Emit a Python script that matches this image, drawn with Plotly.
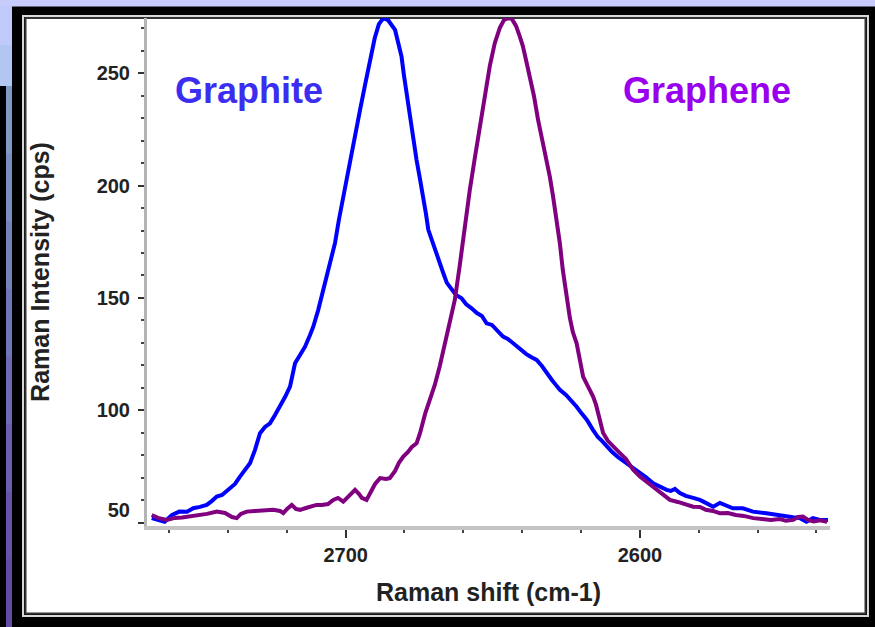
import plotly.graph_objects as go

# ---------------- data ----------------
graphite_shift = [2765.9, 2763.8, 2761.5, 2759.0, 2756.5, 2753.9, 2751.8, 2749.5, 2747.2, 2745.4,
                  2743.8, 2742.0, 2739.3, 2737.6, 2735.9, 2734.2, 2732.5, 2730.8, 2729.1, 2727.4,
                  2725.7, 2724.0, 2722.3, 2720.6, 2718.9, 2717.2, 2715.5, 2713.8, 2712.1, 2711.0,
                  2709.3, 2707.6, 2705.7, 2703.6, 2702.3, 2700.8, 2699.6, 2698.0, 2696.5, 2695.1,
                  2693.4, 2691.7, 2690.1, 2688.7, 2687.2, 2685.6, 2684.3, 2683.2, 2682.2, 2681.0,
                  2680.2, 2679.3, 2678.5, 2677.6, 2676.8, 2675.9, 2674.8, 2673.6, 2672.7, 2671.9,
                  2671.0, 2669.7, 2668.3, 2666.8, 2665.6, 2664.0, 2662.5, 2660.6, 2659.1, 2657.2,
                  2655.4, 2653.7, 2652.1, 2650.3, 2648.6, 2646.5, 2644.9, 2642.8, 2640.8, 2638.7,
                  2637.0, 2635.1, 2633.3, 2631.7, 2629.9, 2628.5, 2627.2, 2625.1, 2623.4, 2621.5,
                  2619.7, 2618.0, 2615.9, 2614.3, 2612.9, 2611.3, 2609.5, 2607.5, 2604.5, 2602.4,
                  2600.0, 2598.0, 2595.5, 2593.2, 2590.9, 2589.5, 2588.1, 2586.4, 2584.4, 2581.9,
                  2579.6, 2577.6, 2575.1, 2572.8, 2570.6, 2568.4, 2565.0, 2561.6, 2557.0, 2553.6,
                  2548.0, 2545.6, 2543.4, 2541.2, 2538.8, 2536.1]
graphite_cps = [52.0, 51.2, 50.4, 53.4, 54.9, 54.8, 56.4, 57.0, 57.9, 59.7,
                61.6, 62.3, 65.3, 67.2, 70.5, 73.5, 76.4, 82.4, 89.8, 92.6,
                94.2, 97.9, 101.6, 105.9, 110.5, 120.9, 124.6, 128.3, 133.5, 137.2,
                144.7, 153.6, 163.4, 174.5, 184.7, 195.1, 204.7, 215.9, 225.7, 233.7,
                244.8, 256.0, 265.7, 271.9, 274.5, 273.7, 271.5, 269.3, 263.9, 257.4,
                249.2, 241.1, 232.8, 224.8, 217.2, 211.4, 203.4, 195.1, 187.4, 180.3,
                176.7, 172.8, 166.9, 161.0, 156.7, 153.6, 151.3, 149.9, 147.3, 145.4,
                143.3, 142.0, 138.7, 138.0, 135.8, 132.8, 131.8, 129.5, 126.9, 125.1,
                123.7, 122.4, 119.7, 116.5, 113.5, 111.2, 109.1, 106.8, 104.6, 101.6,
                98.4, 95.7, 91.2, 88.1, 86.4, 83.8, 81.5, 79.2, 76.4, 74.8,
                72.6, 70.3, 67.5, 65.9, 64.6, 64.1, 65.0, 63.2, 61.9, 61.0,
                60.1, 58.8, 57.1, 58.8, 57.4, 56.4, 56.4, 54.9, 54.2, 53.4,
                52.4, 52.0, 50.4, 52.0, 51.2, 51.2]

graphene_shift = [2765.9, 2763.8, 2760.8, 2758.0, 2755.6, 2752.9, 2750.2, 2747.1, 2743.8, 2741.0,
                  2738.6, 2737.0, 2735.6, 2733.6, 2730.8, 2727.4, 2724.6, 2722.3, 2721.2, 2719.9,
                  2718.3, 2716.9, 2715.5, 2713.5, 2711.8, 2709.9, 2708.1, 2706.0, 2704.2, 2702.6,
                  2700.8, 2699.2, 2697.9, 2696.8, 2695.5, 2694.5, 2692.9, 2691.4, 2690.0, 2688.3,
                  2686.3, 2685.0, 2683.2, 2681.9, 2680.4, 2678.8, 2677.5, 2675.9, 2674.7, 2673.0,
                  2671.4, 2669.7, 2668.0, 2666.3, 2664.6, 2662.9, 2661.2, 2659.5, 2657.8, 2656.1,
                  2654.4, 2652.7, 2651.0, 2649.3, 2647.6, 2646.2, 2644.8, 2643.5, 2642.1, 2640.8,
                  2639.8, 2638.7, 2637.4, 2636.0, 2634.6, 2633.3, 2631.7, 2630.6, 2629.5, 2628.3,
                  2627.2, 2626.2, 2624.9, 2623.8, 2622.8, 2621.5, 2620.4, 2619.3, 2617.7, 2615.9,
                  2614.9, 2613.6, 2612.5, 2610.9, 2609.1, 2606.8, 2604.8, 2602.3, 2600.0, 2597.3,
                  2594.9, 2592.9, 2589.8, 2587.1, 2584.4, 2581.9, 2579.6, 2577.6, 2575.2, 2572.8,
                  2570.1, 2567.4, 2564.7, 2561.5, 2558.5, 2555.5, 2552.4, 2550.4, 2547.9, 2546.3,
                  2544.6, 2542.9, 2540.9, 2538.8, 2536.4]
graphene_cps = [53.4, 52.1, 51.2, 52.1, 52.3, 52.7, 53.0, 53.9, 54.9, 54.3,
                52.5, 52.0, 53.9, 54.9, 55.2, 55.4, 55.7, 55.2, 54.2, 56.1,
                57.9, 56.1, 55.7, 56.5, 57.0, 57.9, 57.9, 58.3, 60.1, 61.0,
                59.3, 61.4, 63.7, 64.6, 62.8, 61.0, 60.1, 63.7, 67.2, 69.8,
                69.4, 69.8, 73.0, 76.6, 79.4, 81.5, 83.7, 85.3, 89.9, 98.4,
                104.6, 111.3, 119.7, 129.1, 138.0, 149.1, 164.7, 182.5, 198.1, 212.3,
                226.2, 240.4, 253.3, 263.5, 270.2, 273.7, 274.5, 274.2, 271.1, 266.3,
                262.2, 255.9, 248.5, 239.9, 229.2, 221.2, 211.4, 203.9, 195.1, 185.6,
                174.3, 162.5, 150.6, 141.1, 134.9, 129.8, 122.4, 115.0, 110.8, 106.1,
                102.4, 95.7, 89.9, 86.4, 83.8, 80.9, 78.4, 73.5, 70.5, 67.7,
                65.0, 63.2, 60.1, 59.2, 57.9, 57.1, 57.0, 55.7, 55.2, 54.2,
                54.3, 53.4, 53.0, 52.0, 51.6, 51.2, 51.6, 50.8, 51.2, 52.5,
                52.7, 51.2, 50.5, 51.0, 50.4]

series_names = ["Graphite", "Graphene"]
y_tickvals = [50, 100, 150, 200, 250]
y_ticktext = ["50<br> ", "100", "150", "200", "250"]
x_title = "Raman shift (cm-1)"
y_title = "Raman Intensity (cps)"

# ---------------- layout geometry ----------------
W, H = 875, 627
L, R, T, B = 147, 830, 18, 526          # plot area in page pixels
PW, PH = R - L, B - T

def px(xp):
    return (xp - L) / PW

def py(yp):
    return (B - yp) / PH

FONT = "Liberation Sans, Arial, Helvetica, sans-serif"

fig = go.Figure()
fig.add_trace(go.Scatter(x=graphite_shift, y=graphite_cps, mode="lines", name=series_names[0],
                         line=dict(color="#0000ff", width=4)))
fig.add_trace(go.Scatter(x=graphene_shift, y=graphene_cps, mode="lines", name=series_names[1],
                         line=dict(color="#800080", width=4)))

shapes = []
def rect(x0, y0, x1, y1, fill=None, line=None, lw=0):
    shapes.append(dict(type="rect", xref="paper", yref="paper", layer="below",
                       x0=px(x0), x1=px(x1), y0=py(y1), y1=py(y0),
                       fillcolor=fill if fill else "rgba(0,0,0,0)",
                       line=dict(color=line if line else "rgba(0,0,0,0)", width=lw)))

# background decoration
rect(0, 0, W, 6.5, fill="#c6cbfb")
rect(0, 6, 12, 45, fill="#bfc9fa")
rect(0, 45, 12, 86, fill="#b2c6f2")
strip_cols = ["#7f9ac4", "#7a8fc0", "#7583bb", "#7077b6", "#6d6bb2", "#6a5fae", "#6754aa", "#6549a7"]
seg = (627 - 86) / len(strip_cols)
for i, c in enumerate(strip_cols):
    rect(6, 86 + i * seg, 12, 86 + (i + 1) * seg + 1, fill=c)
# white panel with double border
rect(23, 16, 868, 616, line="#d8d8d8", lw=2)
rect(25.5, 18, 865.5, 613.5, fill="#ffffff", line="#333333", lw=2)

annotations = [
    dict(text=series_names[0], x=px(249), y=py(91), xref="paper", yref="paper", showarrow=False,
         xanchor="center", yanchor="middle", font=dict(family=FONT, size=36, color="#3b2ef0", weight="bold")),
    dict(text=series_names[1], x=px(707), y=py(91), xref="paper", yref="paper", showarrow=False,
         xanchor="center", yanchor="middle", font=dict(family=FONT, size=36, color="#9900ee", weight="bold")),
]

fig.update_layout(
    width=W, height=H,
    margin=dict(l=L, r=W - R, t=T, b=H - B, pad=0),
    paper_bgcolor="#000000",
    plot_bgcolor="rgba(0,0,0,0)",
    showlegend=False,
    shapes=shapes,
    annotations=annotations,
    font=dict(family=FONT, color="#222222"),
    xaxis=dict(
        range=[2767.5, 2535.4], showgrid=False, zeroline=False,
        showline=True, linecolor="#c4c4c4", linewidth=4,
        ticks="outside", ticklen=8, tickwidth=2, tickcolor="#333333",
        tick0=2600, dtick=100,
        minor=dict(dtick=20, ticks="outside", ticklen=3, tickwidth=2, tickcolor="#444444"),
        tickfont=dict(family=FONT, size=20, color="#222222", weight="bold"),
        ticklabelstandoff=0,
        title=dict(text=x_title, standoff=19,
                   font=dict(family=FONT, size=25, color="#222222", weight="bold")),
    ),
    yaxis=dict(
        range=[48.5, 274.6], showgrid=False, zeroline=False,
        showline=True, linecolor="#b4b4b4", linewidth=3,
        ticks="outside", ticklen=6, tickwidth=2, tickcolor="#333333",
        tickvals=y_tickvals, ticktext=y_ticktext,
        minor=dict(dtick=10, tick0=50, ticks="outside", ticklen=3, tickwidth=2, tickcolor="#444444"),
        tickfont=dict(family=FONT, size=20, color="#222222", weight="bold"),
        ticklabelstandoff=4,
        title=dict(text=y_title, standoff=40,
                   font=dict(family=FONT, size=25, color="#222222", weight="bold")),
    ),
)

fig.write_html("out.html")
